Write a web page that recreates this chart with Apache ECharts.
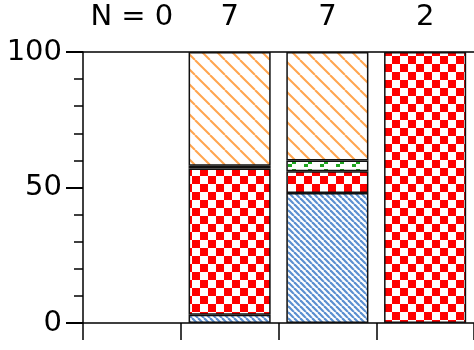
<!DOCTYPE html>
<html>
<head>
<meta charset="utf-8">
<script src="https://cdn.jsdelivr.net/npm/echarts@6/dist/echarts.min.js"></script>
<style>html,body{margin:0;padding:0;background:#fff}#c{width:474px;height:350px}</style>
</head>
<body>
<div id="c"></div>
<script>
var groups = ['A', 'B', 'C', 'D'];
var topLabels = ['N = 0', '7', '7', '2'];
var blueVals = [null, 3, 48, null];
var redVals = [null, 54, 8, 100];
var greenVals = [null, 1, 4, null];
var orangeVals = [null, 42, 40, null];
var yTicks = [0, 50, 100];

function tile(w, h, draw) {
  var c = document.createElement('canvas');
  c.width = w; c.height = h;
  var ctx = c.getContext('2d');
  ctx.fillStyle = '#fff'; ctx.fillRect(0, 0, w, h);
  draw(ctx, w, h);
  return { image: c, repeat: 'repeat' };
}
function diag(color, s, lw) {
  return tile(s, s, function (ctx) {
    ctx.strokeStyle = color; ctx.lineWidth = lw;
    for (var k = -1; k <= 1; k++) {
      ctx.beginPath(); ctx.moveTo(k * s, 0); ctx.lineTo(k * s + s, s); ctx.stroke();
    }
  });
}
var orangePat = diag('#ffa54f', 15, 2);
var bluePat = diag('#5b8fd0', 6, 2.2);
var redPat = tile(16, 16, function (ctx) {
  ctx.fillStyle = '#ff0000';
  ctx.fillRect(0, 0, 8, 8); ctx.fillRect(8, 8, 8, 8);
});
var greenPat = tile(16, 8, function (ctx) {
  ctx.fillStyle = '#1fa51f';
  ctx.fillRect(0, 4, 4, 3); ctx.fillRect(4, 1, 4, 3);
});

var font = 'DejaVu Sans';
function ser(name, data, pat) {
  return {
    name: name, type: 'bar', stack: 's', data: data, barWidth: '84%',
    itemStyle: { color: pat, borderColor: '#111', borderWidth: 1.5 },
    emphasis: { disabled: true }, animation: false
  };
}
var chart = echarts.init(document.getElementById('c'));
chart.setOption({
  animation: false,
  grid: { left: 83, right: 0, top: 52, bottom: 27 },
  xAxis: [{
    type: 'category', data: groups, position: 'bottom',
    axisLine: { lineStyle: { color: '#000', width: 1.5 } },
    axisTick: { show: true, length: 17, lineStyle: { color: '#000', width: 1.5 } },
    axisLabel: { show: false }
  }, {
    type: 'category', data: topLabels, position: 'top',
    axisLine: { lineStyle: { color: '#000', width: 1.5 } },
    axisTick: { show: false },
    axisLabel: { color: '#000', fontSize: 29, fontFamily: font, margin: 20,
      interval: 0, hideOverlap: false }
  }],
  yAxis: {
    type: 'value', min: 0, max: 100, interval: 50,
    axisLine: { show: true, lineStyle: { color: '#000', width: 1.5 } },
    axisTick: { show: true, length: 17, lineStyle: { color: '#000', width: 2 } },
    minorTick: { show: true, splitNumber: 5, length: 9, lineStyle: { color: '#000', width: 1.5 } },
    splitLine: { show: false },
    axisLabel: { color: '#000', fontSize: 29, fontFamily: font, margin: 21,
      formatter: function (v) { return yTicks.indexOf(v) >= 0 ? String(v) : ''; } }
  },
  series: [
    ser('blue', blueVals, bluePat),
    ser('red', redVals, redPat),
    ser('green', greenVals, greenPat),
    ser('orange', orangeVals, orangePat)
  ]
});
</script>
</body>
</html>
